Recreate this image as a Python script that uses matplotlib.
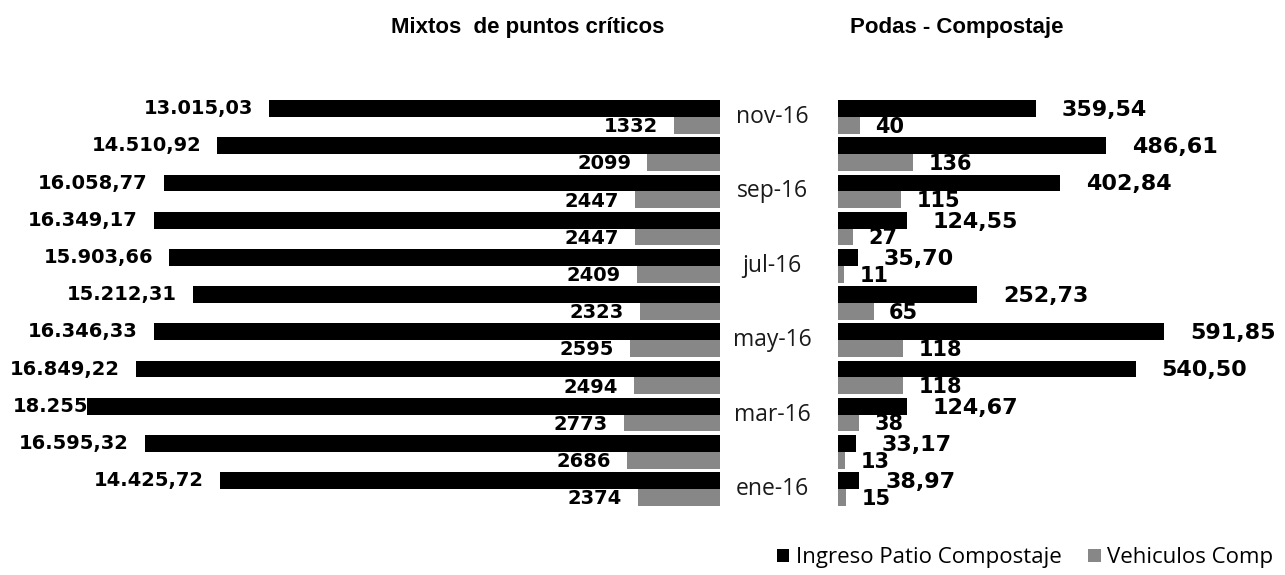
import matplotlib
matplotlib.use("Agg")
import matplotlib.pyplot as plt
import matplotlib.transforms as mtransforms
from matplotlib.patches import Patch
import numpy as np

# ---- data (top to bottom: nov-16 ... ene-16) ----
months = ["nov-16", "oct-16", "sep-16", "ago-16", "jul-16", "jun-16",
          "may-16", "abr-16", "mar-16", "feb-16", "ene-16"]
mixtos_ingreso = [13015.03, 14510.92, 16058.77, 16349.17, 15903.66, 15212.31,
                  16346.33, 16849.22, 18255.38, 16595.32, 14425.72]
mixtos_vehiculos = [1332, 2099, 2447, 2447, 2409, 2323, 2595, 2494, 2773, 2686, 2374]
podas_ingreso = [359.54, 486.61, 402.84, 124.55, 35.70, 252.73,
                 591.85, 540.50, 124.67, 33.17, 38.97]
podas_vehiculos = [40, 136, 115, 27, 11, 65, 118, 118, 38, 13, 15]
shown_months = ["nov-16", "sep-16", "jul-16", "may-16", "mar-16", "ene-16"]
series_names = ["Ingreso Patio Compostaje", "Vehiculos Comp"]

BLACK = "#000000"
GRAY = "#878787"
W, H = 1285, 575

def eu(v, dec=2):
    s = f"{v:,.{dec}f}"
    return s.replace(",", "X").replace(".", ",").replace("X", ".")

fig = plt.figure(figsize=(W / 100, H / 100), dpi=100)
bottom = 1 - 507.6 / H
top = 1 - 98.4 / H
axL = fig.add_axes([0, bottom, 720 / W, top - bottom])
axR = fig.add_axes([838 / W, bottom, 447 / W, top - bottom])

y = np.arange(len(months))
bh = 0.45
off = 0.225

# left panel (bars grow leftwards)
axL.barh(y - off, mixtos_ingreso, height=bh, color=BLACK, zorder=3)
axL.barh(y + off, mixtos_vehiculos, height=bh, color=GRAY, zorder=3)
xl_max = 720 / 0.03465
axL.set_xlim(xl_max, 0)
for yi, v in zip(y, mixtos_ingreso):
    if v > 0.85 * xl_max:
        axL.text(0.018, yi - off, eu(v), transform=axL.get_yaxis_transform(),
                 ha="left", va="center", fontsize=14, fontweight="bold", zorder=1)
    else:
        axL.annotate(eu(v), (v, yi - off), xytext=(-11.5, 0), textcoords="offset points",
                     ha="right", va="center", fontsize=14, fontweight="bold", zorder=4)
for yi, v in zip(y, mixtos_vehiculos):
    axL.annotate(f"{v}", (v, yi + off), xytext=(-11.5, -1), textcoords="offset points",
                 ha="right", va="center", fontsize=14, fontweight="bold", zorder=4)

# right panel
axR.barh(y - off, podas_ingreso, height=bh, color=BLACK, zorder=3)
axR.barh(y + off, podas_vehiculos, height=bh, color=GRAY, zorder=3)
axR.set_xlim(0, 447 / 0.551)
for yi, v in zip(y, podas_ingreso):
    axR.annotate(eu(v), (v, yi - off), xytext=(18.5, -1), textcoords="offset points",
                 ha="left", va="center", fontsize=16, fontweight="bold", zorder=4)
for yi, v in zip(y, podas_vehiculos):
    axR.annotate(f"{v}", (v, yi + off), xytext=(11, -1), textcoords="offset points",
                 ha="left", va="center", fontsize=15, fontweight="bold", zorder=4)

for ax in (axL, axR):
    ax.set_ylim(len(months) - 0.5, -0.5)
    ax.set_xticks([])
    ax.set_yticks([])
    for s in ax.spines.values():
        s.set_visible(False)
    ax.patch.set_alpha(0)

# month labels between the panels
trans = mtransforms.blended_transform_factory(fig.transFigure, axR.transData)
for m in shown_months:
    yi = months.index(m)
    fig.text(772 / W, yi, m, transform=trans, ha="center", va="center",
             fontsize=16.5, family="Open Sans", color="#1a1a1a")

# titles
fig.text(528 / W, 1 - 27 / H, "Mixtos  de puntos críticos", ha="center", va="center",
         fontsize=16, fontweight="bold", family="Liberation Sans")
fig.text(957 / W, 1 - 27 / H, "Podas - Compostaje", ha="center", va="center",
         fontsize=16, fontweight="bold", family="Liberation Sans")

# legend
handles = [Patch(facecolor=BLACK), Patch(facecolor=GRAY)]
fig.legend(handles, series_names, loc="center right", bbox_to_anchor=(1.0065, 1 - 558 / H),
           ncol=2, frameon=False, prop={"family": "Open Sans", "size": 16},
           handlelength=0.55, handleheight=0.55, handletextpad=0.3, columnspacing=1.2)

fig.savefig("out.png", dpi=100, facecolor="white")
